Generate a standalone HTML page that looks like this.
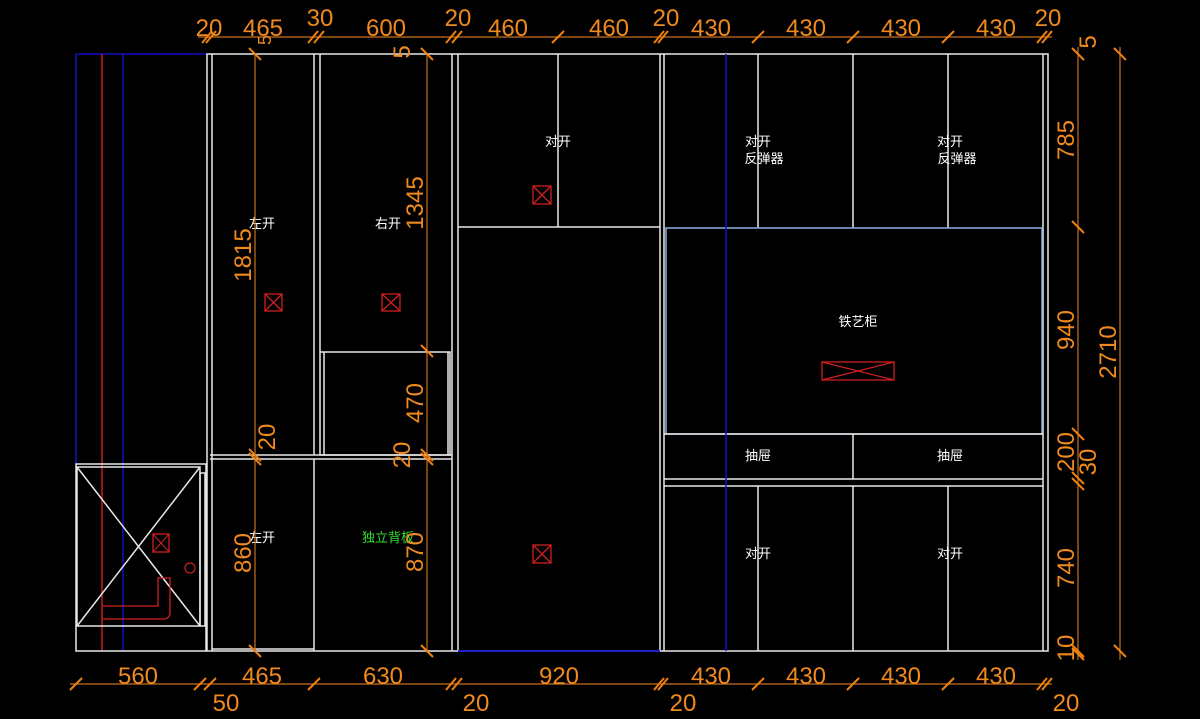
<!DOCTYPE html>
<html><head><meta charset="utf-8"><style>
html,body{margin:0;padding:0;background:#000;}
svg{display:block}
.w{stroke:#e8e8e8;stroke-width:1.5;fill:none}
.o{stroke:#c8701e;stroke-width:1.2;fill:none}
.t{stroke:#f08010;stroke-width:2}
.ot{fill:#f08a1e;font-family:"Liberation Sans",sans-serif;font-size:24px;text-anchor:middle}
.ct{fill:#fff;font-family:"Liberation Sans","Noto Sans CJK SC",sans-serif;font-size:13px;text-anchor:middle}
</style></head><body>
<svg width="1200" height="719" viewBox="0 0 1200 719" xmlns="http://www.w3.org/2000/svg">
<rect width="1200" height="719" fill="#000"/>
<!-- left column -->
<line x1="76" y1="54" x2="207" y2="54" stroke="#1010c8" stroke-width="1.5"/>
<line x1="76" y1="54" x2="76" y2="464" stroke="#1010c8" stroke-width="1.5"/>
<line x1="123" y1="54" x2="123" y2="651" stroke="#1010c8" stroke-width="1.5"/>
<line x1="102" y1="54" x2="102" y2="651" stroke="#c02020" stroke-width="1.5"/>
<rect class="w" x="76" y="464" width="130" height="187"/>
<rect class="w" x="77" y="467" width="123" height="159"/>
<line class="w" x1="77" y1="467" x2="200" y2="626" stroke-width="1"/>
<line class="w" x1="200" y1="467" x2="77" y2="626" stroke-width="1"/>
<rect class="w" x="200" y="473" width="5" height="153" stroke-width="1"/>
<rect x="153" y="534" width="16" height="18" fill="none" stroke="#d02020" stroke-width="1.3"/>
<line x1="153" y1="534" x2="169" y2="552" stroke="#d02020"/><line x1="169" y1="534" x2="153" y2="552" stroke="#d02020"/>
<circle cx="190" cy="568" r="5" fill="none" stroke="#d02020" stroke-width="1.2"/>
<path d="M103 606 H158 V578 H170 V612 Q170 619 163 619 H103" fill="none" stroke="#d02020" stroke-width="1.3"/>
<!-- cabinet frames -->
<rect class="w" x="207" y="54" width="841" height="597"/>
<line class="w" x1="212" y1="54" x2="212" y2="651"/>
<line class="w" x1="314" y1="54" x2="314" y2="455"/>
<line class="w" x1="320" y1="54" x2="320" y2="352"/>
<line class="w" x1="314" y1="459" x2="314" y2="651"/>
<line class="w" x1="452" y1="54" x2="452" y2="651"/>
<line class="w" x1="458" y1="54" x2="458" y2="651"/>
<line class="w" x1="660" y1="54" x2="660" y2="651"/>
<line class="w" x1="664" y1="54" x2="664" y2="651"/>
<line class="w" x1="1043" y1="54" x2="1043" y2="651"/>
<line class="w" x1="210" y1="455" x2="452" y2="455"/>
<line class="w" x1="210" y1="459" x2="452" y2="459"/>
<rect class="w" x="320" y="352" width="130" height="103"/>
<line class="w" x1="324" y1="352" x2="324" y2="455"/>
<line class="w" x1="448" y1="352" x2="448" y2="455"/>
<line class="w" x1="212" y1="649" x2="314" y2="649" stroke-width="1"/>
<!-- middle -->
<line class="w" x1="458" y1="227" x2="660" y2="227"/>
<line class="w" x1="558" y1="54" x2="558" y2="227"/>
<line x1="458" y1="651" x2="660" y2="651" stroke="#2020d0" stroke-width="2"/>
<!-- right -->
<line class="w" x1="758" y1="54" x2="758" y2="228"/>
<line class="w" x1="853" y1="54" x2="853" y2="228"/>
<line class="w" x1="948" y1="54" x2="948" y2="228"/>
<rect x="666" y="228" width="376" height="206" fill="none" stroke="#8ab0e0" stroke-width="1.5"/>
<line class="w" x1="664" y1="434" x2="1043" y2="434"/>
<line class="w" x1="853" y1="434" x2="853" y2="479"/>
<line class="w" x1="664" y1="479" x2="1043" y2="479"/>
<line class="w" x1="664" y1="486" x2="1043" y2="486"/>
<line class="w" x1="758" y1="486" x2="758" y2="651"/>
<line class="w" x1="853" y1="486" x2="853" y2="651"/>
<line class="w" x1="948" y1="486" x2="948" y2="651"/>
<line x1="726" y1="54" x2="726" y2="651" stroke="#1010c8" stroke-width="1.5"/>
<!-- red boxes -->
<g fill="none" stroke="#d02020" stroke-width="1.3">
<rect x="265" y="294" width="17" height="17"/><path d="M265 294 L282 311 M282 294 L265 311"/>
<rect x="382" y="294" width="18" height="17"/><path d="M382 294 L400 311 M400 294 L382 311"/>
<rect x="533" y="186" width="18" height="18"/><path d="M533 186 L551 204 M551 186 L533 204"/>
<rect x="533" y="545" width="18" height="18"/><path d="M533 545 L551 563 M551 545 L533 563"/>
<rect x="822" y="362" width="72" height="18"/><path d="M822 362 L894 380 M894 362 L822 380"/>
</g>
<!-- labels -->
<text class="ct" x="558" y="146">对开</text>
<text class="ct" x="758" y="146">对开</text><text class="ct" x="764" y="163">反弹器</text>
<text class="ct" x="950" y="146">对开</text><text class="ct" x="957" y="163">反弹器</text>
<text class="ct" x="262" y="228">左开</text>
<text class="ct" x="388" y="228">右开</text>
<text class="ct" x="858" y="326">铁艺柜</text>
<text class="ct" x="758" y="460">抽屉</text>
<text class="ct" x="950" y="460">抽屉</text>
<text class="ct" x="262" y="542">左开</text>
<text class="ct" x="388" y="542" style="fill:#30e030">独立背板</text>
<text class="ct" x="758" y="558">对开</text>
<text class="ct" x="950" y="558">对开</text>
<!-- dimension lines -->
<line class="o" x1="198" y1="37" x2="1052" y2="37"/>
<line class="o" x1="70" y1="684" x2="1052" y2="684"/>
<line class="o" x1="1078" y1="47" x2="1078" y2="660"/>
<line class="o" x1="1120" y1="47" x2="1120" y2="660"/>
<line class="o" x1="255" y1="54" x2="255" y2="651"/>
<line class="o" x1="427" y1="54" x2="427" y2="651"/>
<g class="t">
<path d="M202 43 L212 31 M206 43 L216 31 M308 43 L318 31 M314 43 L324 31 M446 43 L456 31 M452 43 L462 31 M654 43 L664 31 M658 43 L668 31 M1037 43 L1047 31 M1042 43 L1052 31 M552 43 L564 31 M752 43 L764 31 M847 43 L859 31 M942 43 L954 31"/>
<path d="M70 690 L82 678 M194 690 L206 678 M204 690 L216 678 M308 690 L320 678 M446 690 L456 678 M452 690 L462 678 M654 690 L664 678 M658 690 L668 678 M752 690 L764 678 M847 690 L859 678 M942 690 L954 678 M1037 690 L1047 678 M1042 690 L1052 678"/>
<path d="M1072 48 L1084 60 M1072 221 L1084 233 M1072 428 L1084 440 M1072 472 L1084 484 M1072 478 L1084 490 M1072 645 L1084 657 M1072 648 L1084 660 M1114 48 L1126 60 M1114 645 L1126 657"/>
<path d="M249 48 L261 60 M249 449 L261 461 M249 453 L261 465 M249 645 L261 657 M421 48 L433 60 M421 345 L433 357 M421 449 L433 461 M421 453 L433 465 M421 645 L433 657"/>
</g>
<g class="ot">
<text x="209" y="36">20</text><text x="263" y="36">465</text><text x="320" y="26">30</text><text x="386" y="36">600</text>
<text x="458" y="26">20</text><text x="508" y="36">460</text><text x="609" y="36">460</text><text x="666" y="26">20</text>
<text x="711" y="36">430</text><text x="806" y="36">430</text><text x="901" y="36">430</text><text x="996" y="36">430</text><text x="1048" y="26">20</text>
<text x="138" y="684">560</text><text x="262" y="684">465</text><text x="383" y="684">630</text><text x="559" y="684">920</text>
<text x="711" y="684">430</text><text x="806" y="684">430</text><text x="901" y="684">430</text><text x="996" y="684">430</text>
<text x="226" y="711">50</text><text x="476" y="711">20</text><text x="683" y="711">20</text><text x="1066" y="711">20</text>
<text transform="translate(1078,140) rotate(-90)" dy="-4">785</text>
<text transform="translate(1078,330) rotate(-90)" dy="-4">940</text>
<text transform="translate(1078,452) rotate(-90)" dy="-4">200</text>
<text transform="translate(1100,462) rotate(-90)" dy="-4">30</text>
<text transform="translate(1078,568) rotate(-90)" dy="-4">740</text>
<text transform="translate(1078,648) rotate(-90)" dy="-4">10</text>
<text transform="translate(1100,42) rotate(-90)" dy="-4">5</text>
<text transform="translate(1120,352) rotate(-90)" dy="-4">2710</text>
<text transform="translate(255,255) rotate(-90)" dy="-4">1815</text>
<text transform="translate(279,437) rotate(-90)" dy="-4">20</text>
<text transform="translate(255,553) rotate(-90)" dy="-4">860</text>
<text transform="translate(427,203) rotate(-90)" dy="-4">1345</text>
<text transform="translate(427,403) rotate(-90)" dy="-4">470</text>
<text transform="translate(414,455) rotate(-90)" dy="-4">20</text>
<text transform="translate(427,552) rotate(-90)" dy="-4">870</text>
<text transform="translate(414,52) rotate(-90)" dy="-4">5</text>
<text transform="translate(275,40) rotate(-90)" dy="-4" style="font-size:18px">5</text>
</g>
</svg>
</body></html>
